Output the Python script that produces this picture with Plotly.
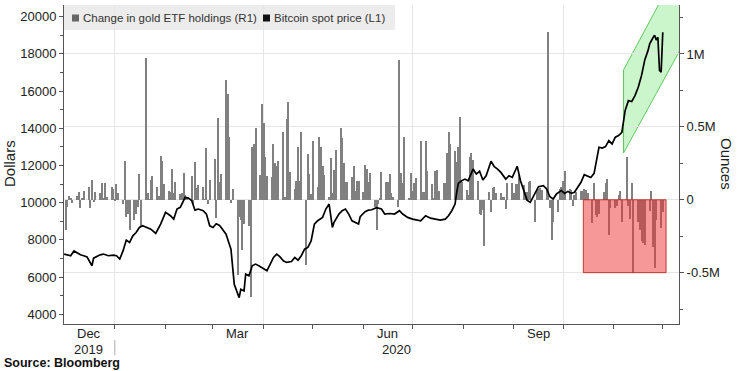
import pandas as pd
import plotly.graph_objects as go

# ---------------- data ----------------
btc_dates = [
    "2019-12-01", "2019-12-03", "2019-12-05", "2019-12-07", "2019-12-09", "2019-12-11", "2019-12-13",
    "2019-12-15", "2019-12-18", "2019-12-19", "2019-12-23", "2019-12-25", "2019-12-28", "2019-12-31",
    "2020-01-02", "2020-01-04", "2020-01-06", "2020-01-08", "2020-01-10", "2020-01-12", "2020-01-14",
    "2020-01-16", "2020-01-18", "2020-01-20", "2020-01-23", "2020-01-26", "2020-01-29", "2020-02-01",
    "2020-02-04", "2020-02-06", "2020-02-08", "2020-02-10", "2020-02-13", "2020-02-15", "2020-02-17",
    "2020-02-19", "2020-02-21", "2020-02-24", "2020-02-26", "2020-02-28", "2020-03-01", "2020-03-03",
    "2020-03-05", "2020-03-06", "2020-03-09", "2020-03-11", "2020-03-12", "2020-03-14", "2020-03-15",
    "2020-03-17", "2020-03-18", "2020-03-20", "2020-03-21", "2020-03-23", "2020-03-25", "2020-03-27",
    "2020-03-29", "2020-04-01", "2020-04-03", "2020-04-05", "2020-04-07", "2020-04-09", "2020-04-11",
    "2020-04-13", "2020-04-15", "2020-04-18", "2020-04-20", "2020-04-22", "2020-04-24", "2020-04-26",
    "2020-04-28", "2020-04-30", "2020-05-02", "2020-05-04", "2020-05-07", "2020-05-09", "2020-05-11",
    "2020-05-13", "2020-05-14", "2020-05-17", "2020-05-19", "2020-05-21", "2020-05-23", "2020-05-25",
    "2020-05-27", "2020-05-29", "2020-05-30", "2020-06-02", "2020-06-04", "2020-06-06", "2020-06-09",
    "2020-06-12", "2020-06-14", "2020-06-17", "2020-06-20", "2020-06-23", "2020-06-25", "2020-06-28",
    "2020-07-01", "2020-07-04", "2020-07-06", "2020-07-09", "2020-07-12", "2020-07-15", "2020-07-18",
    "2020-07-21", "2020-07-23", "2020-07-25", "2020-07-27", "2020-07-28", "2020-07-29", "2020-07-31",
    "2020-08-02", "2020-08-04", "2020-08-07", "2020-08-09", "2020-08-11", "2020-08-13", "2020-08-15",
    "2020-08-18", "2020-08-20", "2020-08-22", "2020-08-24", "2020-08-27", "2020-08-29", "2020-08-31",
    "2020-09-03", "2020-09-05", "2020-09-07", "2020-09-09", "2020-09-11", "2020-09-13", "2020-09-16",
    "2020-09-19", "2020-09-21", "2020-09-23", "2020-09-25", "2020-09-27", "2020-09-30", "2020-10-02",
    "2020-10-04", "2020-10-06", "2020-10-08", "2020-10-10", "2020-10-12", "2020-10-14", "2020-10-16",
    "2020-10-18", "2020-10-20", "2020-10-21", "2020-10-23", "2020-10-25", "2020-10-27", "2020-10-29",
    "2020-10-31", "2020-11-02", "2020-11-04", "2020-11-06", "2020-11-08", "2020-11-10", "2020-11-12",
    "2020-11-14", "2020-11-16", "2020-11-18", "2020-11-20", "2020-11-22", "2020-11-23", "2020-11-25",
    "2020-11-26", "2020-11-27", "2020-11-28", "2020-11-29", "2020-11-30", "2020-12-01",
]
btc_prices = [
    7240, 7200, 7150, 7410, 7300, 7200, 7150,
    7090, 6610, 7020, 7200, 7240, 7150, 7180,
    7150, 6970, 7410, 7990, 7860, 8220, 8400,
    8670, 8760, 8670, 8580, 8350, 8850, 9480,
    9300, 9120, 9660, 9750, 10290, 10250, 10110,
    9600, 9660, 9570, 9390, 8760, 8670, 8870,
    8780, 8670, 8310, 7770, 7500, 5620, 5350,
    4900, 5350, 5260, 6160, 6070, 6610, 6700,
    6610, 6430, 6340, 6700, 7060, 7240, 7090,
    6880, 6790, 6840, 7060, 6910, 7150, 7500,
    7600, 7950, 8850, 9030, 9210, 9660, 9930,
    8670, 8940, 9390, 9570, 9660, 9390, 9030,
    8940, 8850, 9250, 9520, 9600, 9620, 9730,
    9660, 9390, 9420, 9390, 9570, 9390, 9210,
    9120, 9080, 9030, 9300, 9170, 9120, 9070,
    9120, 9300, 9570, 9930, 10560, 11040, 11180,
    11270, 11180, 11810, 11540, 11690, 11220, 11450,
    12230, 11940, 11810, 11630, 11270, 11450, 11360,
    11960, 11180, 10650, 10140, 10020, 10380, 10860,
    10920, 10740, 10320, 10200, 10470, 10650, 10500,
    10610, 10500, 10560, 10830, 11100, 11510, 11420,
    11360, 11580, 11990, 12980, 12940, 13020, 13340,
    13160, 13520, 13610, 13790, 14960, 15490, 15440,
    15760, 16210, 16840, 17680, 18190, 18540, 18870,
    19000, 18750, 18900, 17110, 17020, 19170,
]

# daily change in gold ETF holdings, thousands of ounces, one per weekday
gold_start, gold_end = "2019-12-02", "2020-12-01"
gold_change_koz = [
    # Dec 2019 - early Mar 2020
    -210, -50, 23, 7, -20, 23, 52, -55, 10, 59,
    87, -55, 139, -16, 52, 46, 114, 7, 114, 18,
    87, 75, -8, 110, 46, -32, 269, -119, -96, -205,
    -142, -96, -50, 178, -183, 973, 46, 5, 137, 162,
    87, 25, 299, 265, 110, 59, 52, 212, 48, 119,
    41, 46, 185, 34, 18, 162, -27, 256, 82, 98,
    91, 5, 354, -32, 139, 281, -123, 559, 121,
    # Mar - early Jun 2020
    178, 822, 726, 434, -23, 75, -518, -119, -142, -347,
    -164, -183, -667, 361, 384, 491, 167, 657, 525, 292,
    160, 155, 384, 251, 235, 269, 463, 18, 555, 669,
    194, 75, 132, 361, 132, 468, -450, 311, 178, 41,
    400, 87, 434, 361, 235, 171, 18, 285, 46, 205,
    342, 491, 425, 251, 121, 121, 155, 230, 59, 132,
    132, 52, 242, 212, 121, 185, -50, -205,
    # Jun - mid Sep 2020
    -30, 10, 190, 121, 121, 174, 46, 18, -50, 959,
    183, 114, 434, 7, 183, 59, 114, 148, 402, 52,
    52, 402, 196, 110, 7, 196, 201, 59, 114, 114,
    320, 463, 384, 338, 258, 365, 566, 121, 64, 30,
    292, 320, 274, 132, -96, -107, -73, -320, 52, -84,
    82, 87, 46, 46, 18, 18, -62, 114, 114, 46,
    105, 110, 167, 100, 52, 52, 121, 132,
    # mid Sep - Dec 1 2020
    -155, 75, 75, 82, 68, 75, 1148, -53, -275, -155,
    -87, 75, 89, 130, 199, 75, 68, -41, 30, 55,
    57, 57, 75, 68, 46, -158, 116, -105, -118, -96,
    50, 112, 142, -240, -53, -53, -41, 30, 60, -155,
    295, -41, -130, 116, -505, -155, -210, -283, -299, -310,
    -75, 60, -322, -466, -140, -194, -87,
]

left_ticks = [4000, 6000, 8000, 10000, 12000, 14000, 16000, 18000, 20000]
right_ticks = [-500000, 0, 500000, 1000000]
right_labels = ["-0.5M", "0", "0.5M", "1M"]
month_labels = [("2019-12-16", "Dec"), ("2020-03-16", "Mar"), ("2020-06-16", "Jun"), ("2020-09-16", "Sep")]
year_labels = [("2019-12-16", "2019"), ("2020-06-21", "2020")]

# ---------------- figure ----------------
W, H = 738, 371
L, R, T, B = 64, 59, 5, 47
PW, PH = W - L - R, H - T - B


def px_x(X):
    return (X - L) / PW


def px_y(Y):
    return (H - B - Y) / PH


FONT = "Liberation Sans"
TXT = "#222222"
AX = "#555555"
GRID = "#e6e6e6"

gold_dates = pd.bdate_range(gold_start, gold_end)
gold_vals = [v * 1000 for v in gold_change_koz]

fig = go.Figure()
fig.add_trace(go.Bar(
    x=gold_dates, y=gold_vals, yaxis="y",
    marker=dict(color="#808080", line=dict(width=0)),
    width=0.62 * 86400000, name="Change in gold ETF holdings (R1)", showlegend=False,
))
fig.add_trace(go.Scatter(
    x=btc_dates, y=btc_prices, yaxis="y2", mode="lines",
    line=dict(color="#000000", width=1.7), name="Bitcoin spot price (L1)", showlegend=False,
))

tickfont = dict(family=FONT, size=13, color=TXT)
month_starts = [d.strftime("%Y-%m-%d") for d in pd.date_range("2020-01-01", "2020-12-01", freq="MS")]
quarters = ["2020-01-01", "2020-04-01", "2020-07-01", "2020-10-01"]

fig.update_layout(
    width=W, height=H,
    margin=dict(l=L, r=R, t=T, b=B, pad=0, autoexpand=False),
    paper_bgcolor="white", plot_bgcolor="white",
    bargap=0, showlegend=False,
    xaxis=dict(
        type="date", range=["2019-11-30 22:00", "2020-12-10 22:00"],
        tickmode="array", tickvals=quarters, ticktext=[""] * 4,
        showgrid=True, gridcolor=GRID, gridwidth=1,
        ticks="outside", ticklen=4, tickcolor=AX,
        showline=True, linecolor=AX, linewidth=1, zeroline=False,
        minor=dict(tickmode="array", tickvals=month_starts, ticks="outside", ticklen=4,
                   tickcolor=AX, showgrid=False),
    ),
    yaxis=dict(
        side="right", range=[-852000, 1336000],
        tickmode="array", tickvals=right_ticks, ticktext=right_labels,
        showgrid=True, gridcolor=GRID, gridwidth=1, zeroline=False,
        showline=True, linecolor=AX, linewidth=1,
        ticks="outside", ticklen=4, tickcolor=AX, tickfont=tickfont,
        minor=dict(tickmode="array", tickvals=[-750000, -250000, 250000, 750000, 1250000],
                   ticks="outside", ticklen=3, tickcolor=AX, showgrid=False),
    ),
    yaxis2=dict(
        overlaying="y", side="left", range=[3480, 20630],
        tickmode="array", tickvals=left_ticks, ticktext=[str(v) for v in left_ticks],
        showgrid=False, zeroline=False,
        showline=True, linecolor=AX, linewidth=1,
        ticks="outside", ticklen=4, tickcolor=AX, tickfont=tickfont,
        minor=dict(tickmode="array", tickvals=list(range(5000, 21000, 2000)),
                   ticks="outside", ticklen=3, tickcolor=AX),
    ),
)

shapes = []
# legend band
shapes.append(dict(type="rect", xref="paper", yref="paper", x0=0, x1=px_x(395),
                   y0=px_y(30), y1=1, fillcolor="#ececec", line=dict(width=0), layer="below"))
# legend swatches
shapes.append(dict(type="rect", xref="paper", yref="paper", x0=px_x(72), x1=px_x(79),
                   y0=px_y(21.5), y1=px_y(14.5), fillcolor="#666666", line=dict(width=0), layer="above"))
shapes.append(dict(type="rect", xref="paper", yref="paper", x0=px_x(263), x1=px_x(270),
                   y0=px_y(21.5), y1=px_y(14.5), fillcolor="#111111", line=dict(width=0), layer="above"))
# green trend channel (left axis units)
shapes.append(dict(type="path", xref="x", yref="y2",
                   path="M 2020-11-07,12672 L 2020-11-07,17134 L 2020-12-12,22867 L 2020-12-12,18272 Z",
                   fillcolor="rgba(130,230,130,0.42)", line=dict(color="rgba(80,195,80,0.9)", width=1),
                   layer="below"))
# red outflow box (right axis units)
shapes.append(dict(type="rect", xref="x", yref="y", x0="2020-10-13 10:00", x1="2020-12-03",
                   y0=-500000, y1=0, fillcolor="rgba(240,50,50,0.5)",
                   line=dict(color="rgba(190,40,40,0.9)", width=1), layer="above"))
# year separator
shapes.append(dict(type="line", xref="x", yref="paper", x0="2020-01-01", x1="2020-01-01",
                   y0=px_y(340), y1=px_y(355), line=dict(color="#aaaaaa", width=1), layer="above"))
fig.update_layout(shapes=shapes)

ann = []
ann.append(dict(xref="paper", yref="paper", x=px_x(81), y=px_y(18), xanchor="left", yanchor="middle",
                text="Change in gold ETF holdings (R1)", showarrow=False,
                font=dict(family=FONT, size=11.5, color="#333333")))
ann.append(dict(xref="paper", yref="paper", x=px_x(272), y=px_y(18), xanchor="left", yanchor="middle",
                text="Bitcoin spot price (L1)", showarrow=False,
                font=dict(family=FONT, size=11.5, color="#333333")))
for d, t in month_labels:
    ann.append(dict(xref="x", yref="paper", x=d, y=px_y(333), xanchor="center", yanchor="middle",
                    text=t, showarrow=False, font=dict(family=FONT, size=13, color=TXT)))
for d, t in year_labels:
    ann.append(dict(xref="x", yref="paper", x=d, y=px_y(349), xanchor="center", yanchor="middle",
                    text=t, showarrow=False, font=dict(family=FONT, size=13, color=TXT)))
ann.append(dict(xref="paper", yref="paper", x=px_x(9), y=px_y(164), xanchor="center", yanchor="middle",
                text="Dollars", textangle=-90, showarrow=False, font=dict(family=FONT, size=15, color=TXT)))
ann.append(dict(xref="paper", yref="paper", x=px_x(727), y=px_y(164), xanchor="center", yanchor="middle",
                text="Ounces", textangle=90, showarrow=False, font=dict(family=FONT, size=15, color=TXT)))
ann.append(dict(xref="paper", yref="paper", x=px_x(2), y=px_y(363), xanchor="left", yanchor="middle",
                text="<b>Source: Bloomberg</b>", showarrow=False,
                font=dict(family=FONT, size=12.5, color="#111111")))
fig.update_layout(annotations=ann)

fig.write_html(
    "out.html",
    config={"displayModeBar": False},
    post_script="document.body.style.margin='0px';document.body.style.padding='0px';",
)
